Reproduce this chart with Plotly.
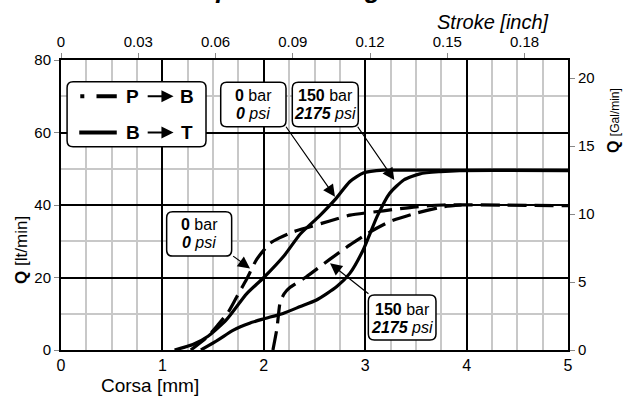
import plotly.graph_objects as go

# ---------------- data ----------------
# B -> T, 0 bar (solid)
x_bt_0 = [1.12, 1.30, 1.45, 1.63, 1.83, 2.00, 2.20, 2.36, 2.55, 2.70, 2.85, 2.98, 3.18, 3.50, 5.00]
q_bt_0 = [0.0, 1.5, 3.8, 8.3, 15.5, 20.0, 26.0, 32.0, 37.0, 41.4, 46.5, 48.8, 49.6, 49.6, 49.6]
# B -> T, 150 bar (solid)
x_bt_150 = [1.38, 1.55, 1.70, 1.86, 2.00, 2.19, 2.36, 2.52, 2.72, 2.85, 2.98, 3.12, 3.24, 3.38, 3.54, 3.74, 3.93, 5.00]
q_bt_150 = [0.0, 2.8, 5.5, 7.4, 8.6, 10.1, 12.0, 13.8, 17.5, 21.2, 27.6, 37.0, 43.2, 46.9, 48.6, 49.2, 49.5, 49.5]
# P -> B, 0 bar (dashed)
x_pb_0 = [1.28, 1.45, 1.55, 1.65, 1.73, 1.83, 1.93, 2.06, 2.16, 2.29, 2.46, 2.65, 2.85, 3.18, 3.50, 3.77, 5.00]
q_pb_0 = [0.0, 3.8, 7.0, 10.5, 14.5, 19.5, 25.0, 29.4, 31.0, 32.6, 34.0, 35.6, 37.2, 38.4, 39.5, 40.0, 39.8]
# P -> B, 150 bar (dashed)
x_pb_150 = [2.09, 2.13, 2.16, 2.20, 2.26, 2.42, 2.65, 2.85, 3.05, 3.24, 3.51, 3.77, 3.95]
q_pb_150 = [0.0, 6.0, 13.0, 15.5, 17.3, 20.2, 25.0, 29.0, 32.6, 35.4, 37.8, 39.5, 40.0]

x_ticks_mm = [0, 1, 2, 3, 4, 5]
y_ticks_l = [0, 20, 40, 60, 80]
x_ticks_inch = [0, 0.03, 0.06, 0.09, 0.12, 0.15, 0.18]
x_ticklabels_inch = ["0", "0.03", "0.06", "0.09", "0.12", "0.15", "0.18"]
y_ticks_gal = [0, 5, 10, 15, 20]

MM_PER_INCH = 25.4
L_PER_GAL = 3.75

FONT = "Liberation Sans, Arial, sans-serif"
LW = 3.2
DASH = "19px,8px"

fig = go.Figure()
fig.add_trace(go.Scatter(x=x_pb_0, y=q_pb_0, mode="lines",
                         line=dict(color="black", width=LW, dash=DASH, shape="spline", smoothing=0.6)))
fig.add_trace(go.Scatter(x=x_pb_150, y=q_pb_150, mode="lines",
                         line=dict(color="black", width=LW, dash=DASH, shape="spline", smoothing=0.5)))
fig.add_trace(go.Scatter(x=x_bt_0, y=q_bt_0, mode="lines",
                         line=dict(color="black", width=LW, shape="spline", smoothing=0.6)))
fig.add_trace(go.Scatter(x=x_bt_150, y=q_bt_150, mode="lines",
                         line=dict(color="black", width=LW, shape="spline", smoothing=0.6)))
# invisible trace on secondary axes
fig.add_trace(go.Scatter(x=[0], y=[0], xaxis="x2", yaxis="y2", mode="markers",
                         marker=dict(opacity=0), hoverinfo="skip"))

XPX = 101.4   # px per mm
YPX = 3.625   # px per l/min


def rbox(x0, x1, y0, y1, r=6):
    rx = r / XPX
    ry = r / YPX
    return (f"M {x0+rx},{y1} L {x1-rx},{y1} Q {x1},{y1} {x1},{y1-ry} "
            f"L {x1},{y0+ry} Q {x1},{y0} {x1-rx},{y0} L {x0+rx},{y0} "
            f"Q {x0},{y0} {x0},{y0+ry} L {x0},{y1-ry} Q {x0},{y1} {x0+rx},{y1} Z")


shapes = []
boxes = [
    (0.06, 1.43, 56.1, 74.0),     # legend
    (1.575, 2.219, 61.6, 73.85),  # 0 bar top
    (2.281, 2.932, 61.6, 73.85),  # 150 bar top
    (1.042, 1.683, 25.9, 38.15),  # 0 bar left
    (3.031, 3.698, 2.76, 15.17),  # 150 bar bottom
]
for b in boxes:
    shapes.append(dict(type="path", path=rbox(*b), xref="x", yref="y",
                       line=dict(color="black", width=1.5), fillcolor="white", layer="above"))
# legend samples
shapes.append(dict(type="line", x0=0.19, x1=0.23, y0=70, y1=70, xref="x", yref="y",
                   line=dict(color="black", width=4), layer="above"))
shapes.append(dict(type="line", x0=0.35, x1=0.55, y0=70, y1=70, xref="x", yref="y",
                   line=dict(color="black", width=4), layer="above"))
shapes.append(dict(type="line", x0=0.18, x1=0.55, y0=60, y1=60, xref="x", yref="y",
                   line=dict(color="black", width=4), layer="above"))

ann = []


def txt(x, y, s, size=16, xref="x", yref="y", **kw):
    d = dict(x=x, y=y, xref=xref, yref=yref, text=s, showarrow=False,
             xanchor="center", yanchor="middle",
             font=dict(family=FONT, size=size, color="black"))
    d.update(kw)
    ann.append(d)


def arrow(xt, yt, xh, yh, width=1.2, size=2.0):
    ann.append(dict(x=xh, y=yh, ax=xt, ay=yt, xref="x", yref="y", axref="x", ayref="y",
                    text="", showarrow=True, arrowhead=2, arrowsize=size, arrowwidth=width,
                    arrowcolor="black", standoff=0, startstandoff=0))


# legend texts
txt(0.71, 70, "<b>P</b>", size=19)
txt(1.24, 70, "<b>B</b>", size=19)
txt(0.71, 60, "<b>B</b>", size=19)
txt(1.24, 60, "<b>T</b>", size=19)
arrow(0.84, 70, 1.11, 70, width=2.2, size=1.1)
arrow(0.84, 60, 1.11, 60, width=2.2, size=1.1)

# box texts
txt(1.897, 70.1, "<b>0</b> bar")
txt(1.897, 65.2, "<b><i>0</i></b><i> psi</i>")
txt(2.607, 70.1, "<b>150</b> bar")
txt(2.607, 65.2, "<b><i>2175</i></b><i> psi</i>")
txt(1.362, 34.5, "<b>0</b> bar")
txt(1.362, 29.6, "<b><i>0</i></b><i> psi</i>")
txt(3.365, 11.2, "<b>150</b> bar")
txt(3.365, 6.3, "<b><i>2175</i></b><i> psi</i>")

# pointer arrows
arrow(2.209, 62.0, 2.702, 42.3)
arrow(2.916, 62.0, 3.287, 46.9)
arrow(1.683, 26.2, 1.864, 22.5)
arrow(3.047, 15.2, 2.653, 23.9)

# axis titles
txt(0.1755, -0.121, "Corsa [mm]", size=19, xref="paper", yref="paper")
txt(0.852, 1.131, "<i>Stroke [inch]</i>", size=20, xref="paper", yref="paper")
txt(-0.077, 0.345, "<b>Q</b> [lt/min]", size=17, xref="paper", yref="paper", textangle=-90)
txt(1.091, 0.79, "<b>Q</b> <span style='font-size:12px'>[Gal/min]</span>", size=16,
    xref="paper", yref="paper", textangle=-90)
# cut-off title at top
txt(0.452, 1.245, "<b><i>Spool stroking</i></b>", size=26, xref="paper", yref="paper")

fig.update_layout(
    width=625, height=401,
    margin=dict(l=61, r=57, t=60, b=51),
    plot_bgcolor="white", paper_bgcolor="white",
    showlegend=False,
    font=dict(family=FONT, color="black"),
    shapes=shapes, annotations=ann,
    xaxis=dict(range=[0, 5], tickvals=x_ticks_mm, showgrid=True, gridcolor="black", gridwidth=1.5,
               minor=dict(dtick=0.25, showgrid=True, gridcolor="#c8c8c8", gridwidth=1.5),
               showline=True, linecolor="black", linewidth=2, ticks="", zeroline=False,
               tickfont=dict(size=16), fixedrange=True),
    xaxis2=dict(range=[0, 5 / MM_PER_INCH], overlaying="x", side="top", anchor="y",
                tickvals=x_ticks_inch, ticktext=x_ticklabels_inch, showgrid=False,
                ticks="outside", ticklen=5, tickcolor="#888888", tickwidth=1,
                showline=True, linecolor="black", linewidth=2, zeroline=False,
                tickfont=dict(size=15)),
    yaxis=dict(range=[0, 80], tickvals=y_ticks_l, showgrid=True, gridcolor="black", gridwidth=1.5,
               minor=dict(dtick=10, showgrid=True, gridcolor="#c8c8c8", gridwidth=1.5),
               ticks="outside", ticklen=5, tickcolor="#888888",
               showline=True, linecolor="black", linewidth=2, zeroline=False,
               tickfont=dict(size=15)),
    yaxis2=dict(range=[0, 80 / L_PER_GAL], overlaying="y", side="right", anchor="x",
                tickvals=y_ticks_gal, showgrid=False, ticks="outside", ticklen=5,
                tickcolor="#888888", showline=True, linecolor="black", linewidth=2,
                zeroline=False, tickfont=dict(size=15)),
)

fig.write_html("out.html", config={"displayModeBar": False},
               post_script="document.body.style.margin='0';")
